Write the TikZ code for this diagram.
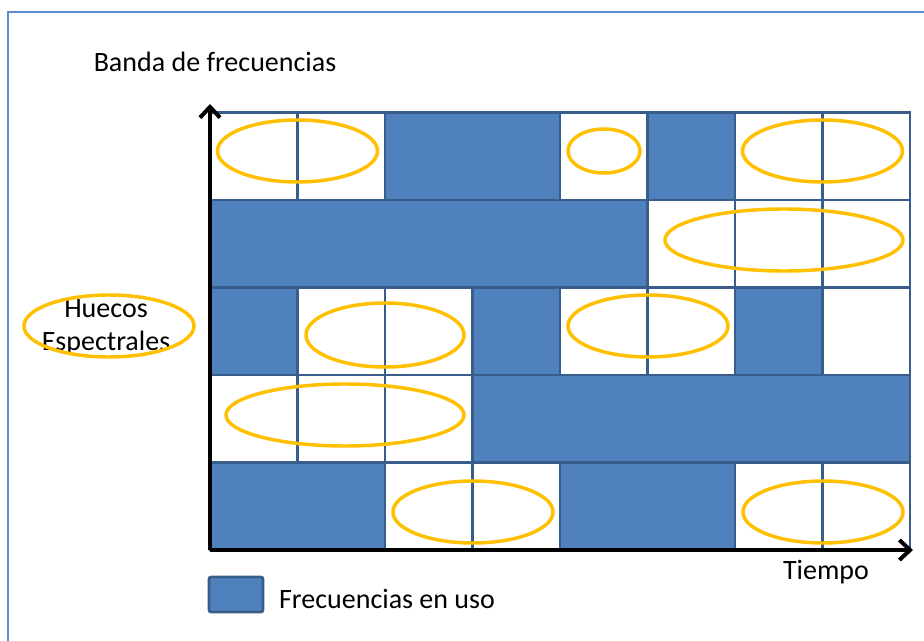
\documentclass[tikz,border=0pt]{standalone}
\usepackage{fontspec}
\setmainfont{Carlito}
\usetikzlibrary{arrows.meta}

\definecolor{usoazul}{RGB}{79,129,189}
\definecolor{bordeazul}{RGB}{56,93,138}
\definecolor{huecoamar}{RGB}{255,192,0}
\definecolor{marcoazul}{RGB}{91,139,208}

\tikzset{every picture/.style={line width=0.75pt}}
\tikzset{
  enuso/.style={fill=usoazul, draw=bordeazul, line width=2pt},
  libre/.style={fill=white, draw=bordeazul, line width=2pt},
  hueco/.style={draw=huecoamar, line width=2.6pt},
  eje/.style={draw=black, line width=3pt, -{Straight Barb[length=8pt,width=15pt]}},
  rotulo/.style={inner sep=0.75pt, font=\fontsize{21}{25}\selectfont},
}

\begin{document}
\begin{tikzpicture}[x=0.75pt,y=0.75pt,yscale=-1,xscale=1]
\useasboundingbox (0,0) rectangle (924,641);

%Frame
\draw[marcoazul, line width=1.4pt] (8,641) -- (8,12) -- (924,12);

%Free cells, row 1
\draw[libre] (210,112.5) rectangle ++(87.5,87.5);
\draw[libre] (297.5,112.5) rectangle ++(87.5,87.5);
\draw[libre] (560,112.5) rectangle ++(87.5,87.5);
\draw[libre] (735,112.5) rectangle ++(87.5,87.5);
\draw[libre] (822.5,112.5) rectangle ++(87.5,87.5);
%Free cells, row 2
\draw[libre] (647.5,200) rectangle ++(87.5,87.5);
\draw[libre] (735,200) rectangle ++(87.5,87.5);
\draw[libre] (822.5,200) rectangle ++(87.5,87.5);
%Free cells, row 3
\draw[libre] (297.5,287.5) rectangle ++(87.5,87.5);
\draw[libre] (385,287.5) rectangle ++(87.5,87.5);
\draw[libre] (560,287.5) rectangle ++(87.5,87.5);
\draw[libre] (647.5,287.5) rectangle ++(87.5,87.5);
\draw[libre] (822.5,287.5) rectangle ++(87.5,87.5);
%Free cells, row 4
\draw[libre] (210,375) rectangle ++(87.5,87.5);
\draw[libre] (297.5,375) rectangle ++(87.5,87.5);
\draw[libre] (385,375) rectangle ++(87.5,87.5);
%Free cells, row 5
\draw[libre] (385,462.5) rectangle ++(87.5,87.5);
\draw[libre] (472.5,462.5) rectangle ++(87.5,87.5);
\draw[libre] (735,462.5) rectangle ++(87.5,87.5);
\draw[libre] (822.5,462.5) rectangle ++(87.5,87.5);

%Used blocks
\draw[enuso] (385,112.5) rectangle (560,200);
\draw[enuso] (647.5,112.5) rectangle (735,200);
\draw[enuso] (210,200) rectangle (647.5,287.5);
\draw[enuso] (210,287.5) rectangle (297.5,375);
\draw[enuso] (472.5,287.5) rectangle (560,375);
\draw[enuso] (735,287.5) rectangle (822.5,375);
\draw[enuso] (472.5,375) rectangle (910,462.5);
\draw[enuso] (210,462.5) rectangle (385,550);
\draw[enuso] (560,462.5) rectangle (735,550);

%Spectrum holes
\draw[hueco] (297.5,151) ellipse (80 and 31);
\draw[hueco] (604,151) ellipse (36 and 22);
\draw[hueco] (822.5,151) ellipse (80 and 31);
\draw[hueco] (784,240) ellipse (119 and 31);
\draw[hueco] (385,335) ellipse (79 and 32);
\draw[hueco] (648,326) ellipse (80 and 31);
\draw[hueco] (345,415) ellipse (119 and 31);
\draw[hueco] (473,512) ellipse (80 and 31);
\draw[hueco] (823,512) ellipse (80 and 31);

%Axes
\coordinate (origen) at (210,550);
\coordinate (ytope) at (210,104);
\coordinate (xfin) at (913,550);
\draw[eje] (origen) -- (ytope);
\draw[eje] (origen) -- (xfin);

%Legend box
\draw[enuso, rounded corners=1.5pt] (209,577) rectangle (263,612);

% Text Node
\node[rotulo] (banda) at (215,62) {Banda de frecuencias};
% Text Node
\node[rotulo, align=center] (huecos) at (106,327) {Huecos\\Espectrales};
\draw[hueco] (109,326) ellipse (85 and 31);
% Text Node
\node[rotulo] (tiempo) at (826,572) {Tiempo};
% Text Node
\node[rotulo] (enuso) at (387,599) {Frecuencias en uso};

\end{tikzpicture}
\end{document}
